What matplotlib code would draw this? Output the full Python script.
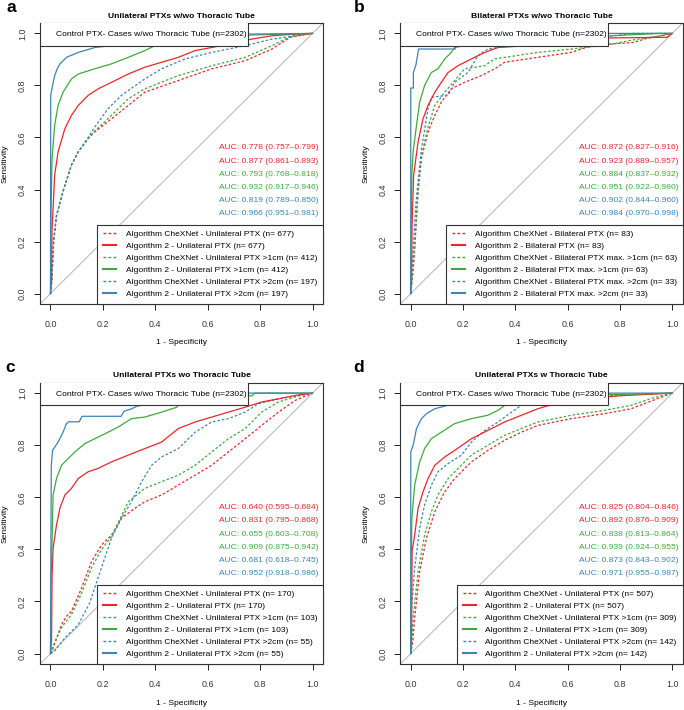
import matplotlib
matplotlib.use("Agg")
import matplotlib.pyplot as plt
from matplotlib.lines import Line2D
from matplotlib.patches import Rectangle

plt.rcParams['font.family'] = ['Liberation Sans', 'DejaVu Sans']

RED = "#E8262B"
GREEN = "#3DAA3D"
BLUE = "#3C84B4"

# ---------------- data (1 - specificity, sensitivity) ----------------
# Panel a: Unilateral PTXs w/wo Thoracic Tube
A_RD_X = [0, 0.005, 0.012, 0.023, 0.05, 0.08, 0.106, 0.144, 0.169, 0.233, 0.297, 0.36, 0.488, 0.616, 0.743, 0.845, 0.915, 1.0]
A_RD_Y = [0, 0.05, 0.2, 0.3, 0.40, 0.494, 0.545, 0.596, 0.621, 0.672, 0.723, 0.774, 0.819, 0.864, 0.895, 0.94, 0.985, 1.0]
A_RS_X = [0, 0.004, 0.006, 0.010, 0.016, 0.029, 0.055, 0.08, 0.106, 0.144, 0.182, 0.233, 0.297, 0.36, 0.424, 0.488, 0.552, 0.616, 0.68, 0.768, 0.845, 0.9, 1.0]
A_RS_Y = [0, 0.05, 0.25, 0.328, 0.455, 0.545, 0.634, 0.685, 0.723, 0.762, 0.787, 0.812, 0.844, 0.87, 0.889, 0.908, 0.934, 0.946, 0.959, 0.978, 0.991, 0.995, 1.0]
A_GD_X = [0, 0.005, 0.012, 0.023, 0.05, 0.08, 0.106, 0.144, 0.169, 0.233, 0.297, 0.36, 0.488, 0.616, 0.743, 0.845, 0.92, 1.0]
A_GD_Y = [0, 0.05, 0.2, 0.3, 0.40, 0.494, 0.545, 0.596, 0.625, 0.685, 0.749, 0.787, 0.838, 0.876, 0.908, 0.953, 0.99, 1.0]
A_GS_X = [0, 0.002, 0.006, 0.016, 0.029, 0.048, 0.08, 0.106, 0.169, 0.233, 0.297, 0.36, 0.399, 0.5, 0.6, 1.0]
A_GS_Y = [0, 0.3, 0.519, 0.647, 0.723, 0.774, 0.825, 0.844, 0.864, 0.883, 0.908, 0.934, 0.953, 0.975, 0.99, 1.0]
A_BD_X = [0, 0.005, 0.012, 0.023, 0.05, 0.08, 0.106, 0.144, 0.169, 0.22, 0.271, 0.36, 0.424, 0.514, 0.616, 0.743, 0.845, 1.0]
A_BD_Y = [0, 0.05, 0.2, 0.3, 0.40, 0.494, 0.545, 0.6, 0.64, 0.711, 0.762, 0.825, 0.864, 0.902, 0.927, 0.953, 0.978, 1.0]
A_BS_X = [0, 0.001, 0.008, 0.016, 0.026, 0.036, 0.061, 0.106, 0.17, 0.233, 0.35, 0.55, 1.0]
A_BS_Y = [0, 0.762, 0.80, 0.838, 0.865, 0.883, 0.908, 0.927, 0.946, 0.953, 0.975, 0.995, 1.0]

# Panel b: Bilateral PTXs w/wo Thoracic Tube
B_RD_X = [0, 0.005, 0.013, 0.028, 0.041, 0.066, 0.092, 0.117, 0.155, 0.206, 0.27, 0.321, 0.359, 0.486, 0.614, 0.652, 0.7, 0.85, 0.9, 1.0]
B_RD_Y = [0, 0.05, 0.137, 0.392, 0.52, 0.621, 0.685, 0.736, 0.787, 0.812, 0.838, 0.864, 0.889, 0.908, 0.927, 0.94, 0.955, 0.965, 0.98, 1.0]
B_RS_X = [0, 0.003, 0.005, 0.011, 0.028, 0.047, 0.066, 0.092, 0.117, 0.143, 0.181, 0.232, 0.283, 0.334, 0.4, 0.45, 0.6, 0.7, 0.98, 1.0]
B_RS_Y = [0, 0.05, 0.264, 0.455, 0.583, 0.672, 0.723, 0.774, 0.812, 0.85, 0.876, 0.902, 0.927, 0.946, 0.95, 0.96, 0.975, 0.982, 0.985, 1.0]
B_GD_X = [0, 0.005, 0.013, 0.028, 0.041, 0.066, 0.092, 0.13, 0.206, 0.283, 0.321, 0.486, 0.614, 0.75, 0.85, 0.95, 1.0]
B_GD_Y = [0, 0.05, 0.15, 0.40, 0.53, 0.64, 0.723, 0.774, 0.864, 0.876, 0.902, 0.927, 0.94, 0.955, 0.975, 0.99, 1.0]
B_GS_X = [0, 0.001, 0.004, 0.009, 0.022, 0.034, 0.053, 0.079, 0.104, 0.13, 0.155, 0.168, 0.3, 0.5, 0.75, 0.95, 1.0]
B_GS_Y = [0, 0.137, 0.455, 0.544, 0.647, 0.736, 0.80, 0.85, 0.864, 0.902, 0.927, 0.946, 0.97, 0.985, 0.99, 1.0, 1.0]
B_BD_X = [0, 0.005, 0.02, 0.04, 0.066, 0.079, 0.143, 0.168, 0.219, 0.257, 0.295, 0.4, 0.6, 0.85, 1.0]
B_BD_Y = [0, 0.1, 0.35, 0.55, 0.71, 0.755, 0.762, 0.812, 0.85, 0.915, 0.94, 0.955, 0.97, 1.0, 1.0]
B_BS_X = [0, 0.0, 0.01, 0.01, 0.02, 0.03, 0.17, 0.17, 0.3, 0.45, 1.0]
B_BS_Y = [0, 0.79, 0.79, 0.85, 0.88, 0.94, 0.94, 0.97, 0.985, 1.0, 1.0]

# Panel c: Unilateral PTXs wo Thoracic Tube
C_RD_X = [0, 0.01, 0.042, 0.061, 0.08, 0.118, 0.157, 0.195, 0.233, 0.271, 0.322, 0.36, 0.424, 0.488, 0.552, 0.615, 0.679, 0.743, 0.806, 0.87, 0.934, 1.0]
C_RD_Y = [0, 0.021, 0.111, 0.143, 0.162, 0.25, 0.354, 0.417, 0.455, 0.52, 0.558, 0.583, 0.609, 0.647, 0.685, 0.723, 0.774, 0.825, 0.876, 0.927, 0.972, 1.0]
C_RS_X = [0, 0.004, 0.006, 0.010, 0.023, 0.036, 0.055, 0.08, 0.106, 0.144, 0.182, 0.233, 0.297, 0.36, 0.424, 0.488, 0.552, 0.615, 0.679, 0.743, 0.806, 0.87, 0.934, 1.0]
C_RS_Y = [0, 0.05, 0.3, 0.404, 0.494, 0.558, 0.609, 0.634, 0.672, 0.698, 0.711, 0.736, 0.762, 0.787, 0.812, 0.864, 0.889, 0.908, 0.927, 0.946, 0.966, 0.978, 0.991, 1.0]
C_GD_X = [0, 0.01, 0.042, 0.08, 0.118, 0.157, 0.195, 0.233, 0.297, 0.36, 0.424, 0.488, 0.552, 0.615, 0.679, 0.743, 0.806, 0.87, 0.95, 1.0]
C_GD_Y = [0, 0.03, 0.10, 0.15, 0.23, 0.33, 0.40, 0.45, 0.583, 0.634, 0.66, 0.685, 0.723, 0.774, 0.825, 0.864, 0.927, 0.966, 0.99, 1.0]
C_GS_X = [0, 0.003, 0.010, 0.023, 0.042, 0.068, 0.093, 0.131, 0.169, 0.208, 0.259, 0.309, 0.36, 0.424, 0.482, 0.5, 0.6, 0.77, 0.78, 1.0]
C_GS_Y = [0, 0.3, 0.609, 0.672, 0.723, 0.749, 0.774, 0.806, 0.825, 0.844, 0.87, 0.902, 0.908, 0.927, 0.946, 0.975, 0.985, 0.99, 1.0, 1.0]
C_BD_X = [0, 0.016, 0.055, 0.106, 0.15, 0.188, 0.233, 0.271, 0.309, 0.348, 0.386, 0.424, 0.488, 0.552, 0.615, 0.679, 0.743, 0.793, 0.87, 1.0]
C_BD_Y = [0, 0.01, 0.06, 0.111, 0.195, 0.31, 0.443, 0.52, 0.583, 0.66, 0.723, 0.755, 0.787, 0.85, 0.889, 0.902, 0.927, 0.959, 0.978, 1.0]
C_BS_X = [0, 0.003, 0.008, 0.029, 0.048, 0.061, 0.07, 0.11, 0.12, 0.27, 0.28, 0.31, 0.33, 0.45, 0.55, 0.6, 1.0]
C_BS_Y = [0, 0.72, 0.78, 0.812, 0.85, 0.883, 0.89, 0.89, 0.911, 0.911, 0.93, 0.94, 0.95, 0.97, 0.99, 1.0, 1.0]

# Panel d: Unilateral PTXs w Thoracic Tube
D_RD_X = [0, 0.008, 0.015, 0.034, 0.06, 0.092, 0.13, 0.168, 0.232, 0.295, 0.359, 0.423, 0.486, 0.614, 0.741, 0.843, 0.92, 1.0]
D_RD_Y = [0, 0.05, 0.137, 0.315, 0.443, 0.545, 0.621, 0.672, 0.736, 0.78, 0.819, 0.85, 0.876, 0.902, 0.921, 0.94, 0.97, 1.0]
D_RS_X = [0, 0.003, 0.005, 0.015, 0.028, 0.047, 0.066, 0.092, 0.13, 0.168, 0.232, 0.295, 0.359, 0.423, 0.486, 0.55, 0.65, 0.8, 1.0]
D_RS_Y = [0, 0.05, 0.392, 0.455, 0.558, 0.621, 0.672, 0.723, 0.755, 0.78, 0.825, 0.857, 0.889, 0.915, 0.94, 0.959, 0.975, 0.99, 1.0]
D_GD_X = [0, 0.004, 0.009, 0.028, 0.053, 0.079, 0.104, 0.143, 0.181, 0.232, 0.295, 0.359, 0.423, 0.486, 0.55, 0.614, 0.741, 0.843, 0.92, 1.0]
D_GD_Y = [0, 0.05, 0.137, 0.315, 0.455, 0.545, 0.609, 0.672, 0.711, 0.762, 0.80, 0.838, 0.864, 0.889, 0.902, 0.915, 0.934, 0.953, 0.98, 1.0]
D_GS_X = [0, 0.002, 0.004, 0.015, 0.034, 0.053, 0.079, 0.117, 0.168, 0.232, 0.295, 0.334, 0.359, 0.4, 0.5, 0.6, 1.0]
D_GS_Y = [0, 0.3, 0.519, 0.647, 0.736, 0.787, 0.825, 0.85, 0.883, 0.902, 0.915, 0.934, 0.953, 0.96, 0.98, 0.99, 1.0]
D_BD_X = [0, 0.0, 0.015, 0.034, 0.053, 0.079, 0.104, 0.143, 0.194, 0.232, 0.283, 0.334, 0.385, 0.423, 0.55, 0.75, 1.0]
D_BD_Y = [0, 0.137, 0.328, 0.481, 0.571, 0.647, 0.698, 0.73, 0.762, 0.812, 0.857, 0.889, 0.927, 0.953, 0.975, 0.99, 1.0]
D_BS_X = [0, 0.0, 0.009, 0.022, 0.041, 0.06, 0.092, 0.13, 0.2, 0.4, 0.6, 1.0]
D_BS_Y = [0, 0.774, 0.80, 0.864, 0.902, 0.921, 0.94, 0.95, 0.97, 0.99, 1.0, 1.0]

TITLES = ["Unilateral PTXs w/wo Thoracic Tube", "Bilateral PTXs w/wo Thoracic Tube",
          "Unilateral PTXs wo Thoracic Tube", "Unilateral PTXs w Thoracic Tube"]
PANEL_LETTERS = ["a", "b", "c", "d"]
CONTROL_LABEL = "Control PTX- Cases w/wo Thoracic Tube (n=2302)"

AUC_A = ["AUC: 0.778 (0.757\u20130.799)", "AUC: 0.877 (0.861\u20130.893)", "AUC: 0.793 (0.768\u20130.818)",
         "AUC: 0.932 (0.917\u20130.946)", "AUC: 0.819 (0.789\u20130.850)", "AUC: 0.966 (0.951\u20130.981)"]
AUC_B = ["AUC: 0.872 (0.827\u20130.916)", "AUC: 0.923 (0.889\u20130.957)", "AUC: 0.884 (0.837\u20130.932)",
         "AUC: 0.951 (0.922\u20130.980)", "AUC: 0.902 (0.844\u20130.960)", "AUC: 0.984 (0.970\u20130.998)"]
AUC_C = ["AUC: 0.640 (0.595\u20130.684)", "AUC: 0.831 (0.795\u20130.868)", "AUC: 0.655 (0.603\u20130.708)",
         "AUC: 0.909 (0.875\u20130.942)", "AUC: 0.681 (0.618\u20130.745)", "AUC: 0.952 (0.918\u20130.986)"]
AUC_D = ["AUC: 0.825 (0.804\u20130.846)", "AUC: 0.892 (0.876\u20130.909)", "AUC: 0.838 (0.813\u20130.864)",
         "AUC: 0.939 (0.924\u20130.955)", "AUC: 0.873 (0.843\u20130.902)", "AUC: 0.971 (0.955\u20130.987)"]

LEG_A = ["Algorithm CheXNet - Unilateral PTX (n= 677)", "Algorithm 2 - Unilateral PTX (n= 677)",
         "Algorithm CheXNet - Unilateral PTX >1cm (n= 412)", "Algorithm 2 - Unilateral PTX >1cm (n= 412)",
         "Algorithm CheXNet - Unilateral PTX >2cm (n= 197)", "Algorithm 2 - Unilateral PTX >2cm (n= 197)"]
LEG_B = ["Algorithm CheXNet - Bilateral PTX (n= 83)", "Algorithm 2 - Bilateral PTX (n= 83)",
         "Algorithm CheXNet - Bilateral PTX max. >1cm (n= 63)", "Algorithm 2 - Bilateral PTX max. >1cm (n= 63)",
         "Algorithm CheXNet - Bilateral PTX max. >2cm (n= 33)", "Algorithm 2 - Bilateral PTX max. >2cm (n= 33)"]
LEG_C = ["Algorithm CheXNet - Unilateral PTX (n= 170)", "Algorithm 2 - Unilateral PTX (n= 170)",
         "Algorithm CheXNet - Unilateral PTX >1cm (n= 103)", "Algorithm 2 - Unilateral PTX >1cm (n= 103)",
         "Algorithm CheXNet - Unilateral PTX >2cm (n= 55)", "Algorithm 2 - Unilateral PTX >2cm (n= 55)"]
LEG_D = ["Algorithm CheXNet - Unilateral PTX (n= 507)", "Algorithm 2 - Unilateral PTX (n= 507)",
         "Algorithm CheXNet - Unilateral PTX >1cm (n= 309)", "Algorithm 2 - Unilateral PTX >1cm (n= 309)",
         "Algorithm CheXNet - Unilateral PTX >2cm (n= 142)", "Algorithm 2 - Unilateral PTX >2cm (n= 142)"]

TICKS = [0.0, 0.2, 0.4, 0.6, 0.8, 1.0]
TICK_LABELS = ["0.0", "0.2", "0.4", "0.6", "0.8", "1.0"]

PANELS = [
    (TITLES[0], AUC_A, LEG_A, [(A_RD_X, A_RD_Y), (A_RS_X, A_RS_Y), (A_GD_X, A_GD_Y), (A_GS_X, A_GS_Y), (A_BD_X, A_BD_Y), (A_BS_X, A_BS_Y)]),
    (TITLES[1], AUC_B, LEG_B, [(B_RD_X, B_RD_Y), (B_RS_X, B_RS_Y), (B_GD_X, B_GD_Y), (B_GS_X, B_GS_Y), (B_BD_X, B_BD_Y), (B_BS_X, B_BS_Y)]),
    (TITLES[2], AUC_C, LEG_C, [(C_RD_X, C_RD_Y), (C_RS_X, C_RS_Y), (C_GD_X, C_GD_Y), (C_GS_X, C_GS_Y), (C_BD_X, C_BD_Y), (C_BS_X, C_BS_Y)]),
    (TITLES[3], AUC_D, LEG_D, [(D_RD_X, D_RD_Y), (D_RS_X, D_RS_Y), (D_GD_X, D_GD_Y), (D_GS_X, D_GS_Y), (D_BD_X, D_BD_Y), (D_BS_X, D_BS_Y)]),
]

COLORS = [RED, RED, GREEN, GREEN, BLUE, BLUE]
STYLES = ["dot", "solid"] * 3
DASH = (0, (2.0, 1.6))

W, H = 684, 710
fig = plt.figure(figsize=(W / 100, H / 100), dpi=100)

# axes rectangles in pixels: left, top, right, bottom
RECTS = [(40, 23, 323, 304), (400.3, 23, 682.7, 304), (40, 382.7, 323, 664), (400.3, 382.7, 682.7, 664)]
LETTER_POS = [(11, 8), (358.7, 8), (10, 367), (358.7, 367)]

FS = 6.1
LFS = 6.0
for i, (title, aucs, legs, curves) in enumerate(PANELS):
    l, t, r, b = RECTS[i]
    ax = fig.add_axes([l / W, 1 - b / H, (r - l) / W, (b - t) / H])
    ax.set_xlim(-0.04, 1.04)
    ax.set_ylim(-0.04, 1.04)
    ax.axline((0, 0), (1, 1), color="#BDBDBD", lw=0.8, zorder=1)
    for (xs, ys), c, s in zip(curves, COLORS, STYLES):
        if s == "dot":
            ax.plot(xs, ys, color=c, lw=0.9, linestyle=DASH, zorder=2)
        else:
            ax.plot(xs, ys, color=c, lw=0.9, zorder=3)
    # AUC texts
    for k, (txt, c) in enumerate(zip(aucs, COLORS)):
        ax.text(1.023, 0.56 - 0.0505 * k, txt, color=c, fontsize=FS, ha="right", va="center", zorder=5)
    # control box (top-left legend)
    ax.add_patch(Rectangle((-0.04, 0.953), 0.794, 0.187, facecolor="white", edgecolor="#333333",
                           lw=0.8, zorder=6, clip_on=True))
    ax.text(0.02, 0.994, CONTROL_LABEL, fontsize=FS, ha="left", va="center", zorder=7)
    # bottom-right legend
    handles = []
    for c, s in zip(COLORS, STYLES):
        if s == "dot":
            handles.append(Line2D([], [], color=c, lw=1.0, linestyle=DASH))
        else:
            handles.append(Line2D([], [], color=c, lw=1.5))
    leg = ax.legend(handles, legs, loc="lower right", fontsize=LFS, frameon=True, fancybox=False,
                    edgecolor="#333333", framealpha=1, borderpad=0.7, handlelength=1.6,
                    handletextpad=1.15, labelspacing=0.5, borderaxespad=0)
    leg.get_frame().set_linewidth(0.8)
    leg.set_zorder(8)

    ax.set_xticks(TICKS)
    ax.set_xticklabels(TICK_LABELS)
    ax.set_yticks(TICKS)
    ax.set_yticklabels(TICK_LABELS, rotation=90, va="center")
    ax.tick_params(axis="both", labelsize=FS + 0.3, length=4.3, width=0.7, colors="#222222",
                   labelcolor="#333333")
    ax.tick_params(axis="x", pad=7.5)
    ax.tick_params(axis="y", pad=5)
    for sp in ax.spines.values():
        sp.set_linewidth(0.8)
        sp.set_color("#333333")
    ax.text(0.5, -(343 - 304) / 281.0, "1 - Specificity", transform=ax.transAxes, fontsize=FS,
            ha="center", va="center")
    ax.text(-34.6 / 283.0, 0.5, "Sensitivity", transform=ax.transAxes, fontsize=FS,
            ha="center", va="center", rotation=90)
    fig.text((l + r) / 2 / W, 1 - (t - 7) / H, title, fontsize=6.1, fontweight="bold",
             ha="center", va="center")
    lx, ly = LETTER_POS[i]
    fig.text(lx / W, 1 - ly / H, PANEL_LETTERS[i], fontsize=12.5, fontweight="bold", ha="center", va="center")

fig.savefig("out.png", dpi=100, facecolor="white")
